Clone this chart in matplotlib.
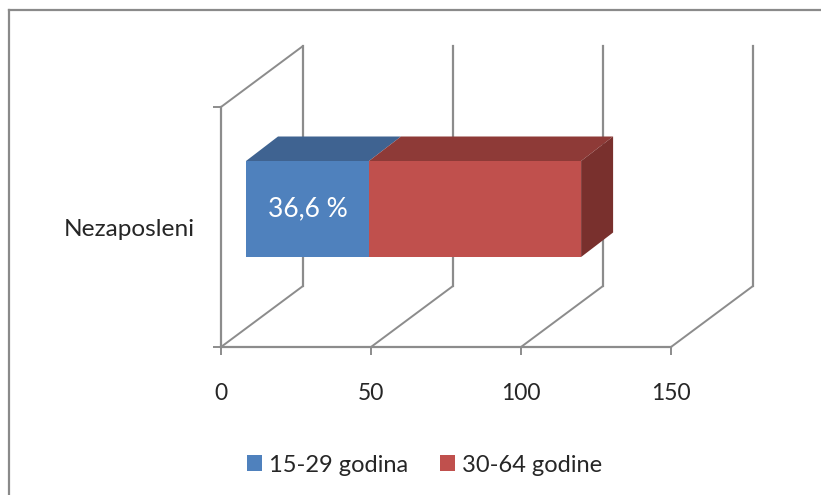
import matplotlib
matplotlib.use('Agg')
import matplotlib.pyplot as plt
from matplotlib.lines import Line2D
from matplotlib.patches import Patch, Polygon
from matplotlib.transforms import Affine2D

# Data
categories = ['Nezaposleni']
series_names = ['15-29 godina', '30-64 godine']
series_values = [41.0, 70.7]
bar_label = '36,6 %'
x_ticks = [0, 50, 100, 150]

front_colors = ['#4F81BD', '#C0504D']
top_colors = ['#3F6391', '#8E3A37']
side_color = '#79302D'
grid_color = '#8C8C8C'
text_color = '#262626'

W, H = 821, 495

plt.rcParams['font.family'] = ['Lato', 'DejaVu Sans']

fig = plt.figure(figsize=(W / 100, H / 100), dpi=100)
ax = fig.add_axes([221 / W, 1 - 347 / H, 450 / W, 240 / H])
ax.set_xlim(0, 150)
ax.set_ylim(0, 1)
ax.patch.set_visible(False)


def depth(dx, dy):
	# pixel shift going back into the fake 3D box
	return ax.transData + Affine2D().translate(dx, dy)


DX, DY = 82, 61
back = depth(DX, DY)

# Box: floor lines and back wall uprights
for t in x_ticks:
	floor = Polygon([ax.transData.transform((t, 0)), back.transform((t, 0))], closed=False,
		fill=False, edgecolor=grid_color, lw=1.4, transform=None, zorder=1, clip_on=False)
	fig.add_artist(floor)
	ax.plot([t, t], [0, 1], color=grid_color, lw=1.6, transform=back, clip_on=False, zorder=1)

# Left wall top edge
fig.add_artist(Polygon([ax.transData.transform((0, 1)), back.transform((0, 1))], closed=False,
	fill=False, edgecolor=grid_color, lw=1.4, transform=None, zorder=1, clip_on=False))

# Stacked bar, sitting halfway into the box
bar_dx, bar_dy = 25, 18
bar_depth_x, bar_depth_y = 32, 24.5
y_mid = 0.5
bar_h = 0.4
front = depth(bar_dx, bar_dy)
rear = depth(bar_dx + bar_depth_x, bar_dy + bar_depth_y)
ybot, ytop = y_mid - bar_h / 2, y_mid + bar_h / 2

left = 0
for name, val, fc, tc in zip(series_names, series_values, front_colors, top_colors):
	ax.barh(y_mid, val, height=bar_h, left=left, color=fc, transform=front, clip_on=False, zorder=3)
	pts = [front.transform((left, ytop)), front.transform((left + val, ytop)),
		rear.transform((left + val, ytop)), rear.transform((left, ytop))]
	ax.add_patch(Polygon(pts, closed=True, facecolor=tc, edgecolor='none', transform=None, clip_on=False, zorder=3))
	left += val

# Right end face
pts = [front.transform((left, ybot)), front.transform((left, ytop)),
	rear.transform((left, ytop)), rear.transform((left, ybot))]
ax.add_patch(Polygon(pts, closed=True, facecolor=side_color, edgecolor='none', transform=None, clip_on=False, zorder=3))

ax.text(series_values[0] / 2, y_mid + 0.001, bar_label, transform=front, color='white', fontsize=19,
	ha='center', va='center', zorder=4)
ax.set_xlim(0, 150)
ax.set_ylim(0, 1)

# Axes and ticks
for s in ['top', 'right']:
	ax.spines[s].set_visible(False)
for s in ['left', 'bottom']:
	ax.spines[s].set_color(grid_color)
	ax.spines[s].set_linewidth(1.6)

ax.set_xticks(x_ticks)
ax.set_yticks([0, 1])
ax.set_yticklabels([])
ax.set_yticks([0.5], labels=categories, minor=True)
ax.tick_params(axis='x', which='major', length=6, width=1.4, color=grid_color, labelcolor=text_color,
	labelsize=16.5, pad=20)
ax.tick_params(axis='y', which='major', length=6, width=1.4, color=grid_color)
ax.tick_params(axis='y', which='minor', length=0, labelcolor=text_color, labelsize=17.6, pad=19)

# Legend
handles = [Patch(facecolor=c, edgecolor='none') for c in front_colors]
fig.legend(handles, series_names, loc='center', bbox_to_anchor=(424.5 / W, 1 - 465 / H), ncol=2, frameon=False,
	fontsize=17, labelcolor=text_color, handlelength=0.65, handleheight=0.65, handletextpad=0.3, columnspacing=1.35)

# Chart frame, only top and left show in the crop
fig.add_artist(Line2D([9 / W, 9 / W], [0, 1 - 10 / H], color='#8A8A8A', lw=1.6))
fig.add_artist(Line2D([9 / W, 1], [1 - 10 / H, 1 - 10 / H], color='#8A8A8A', lw=1.6))

fig.savefig('out.png', dpi=100)
plt.close()
